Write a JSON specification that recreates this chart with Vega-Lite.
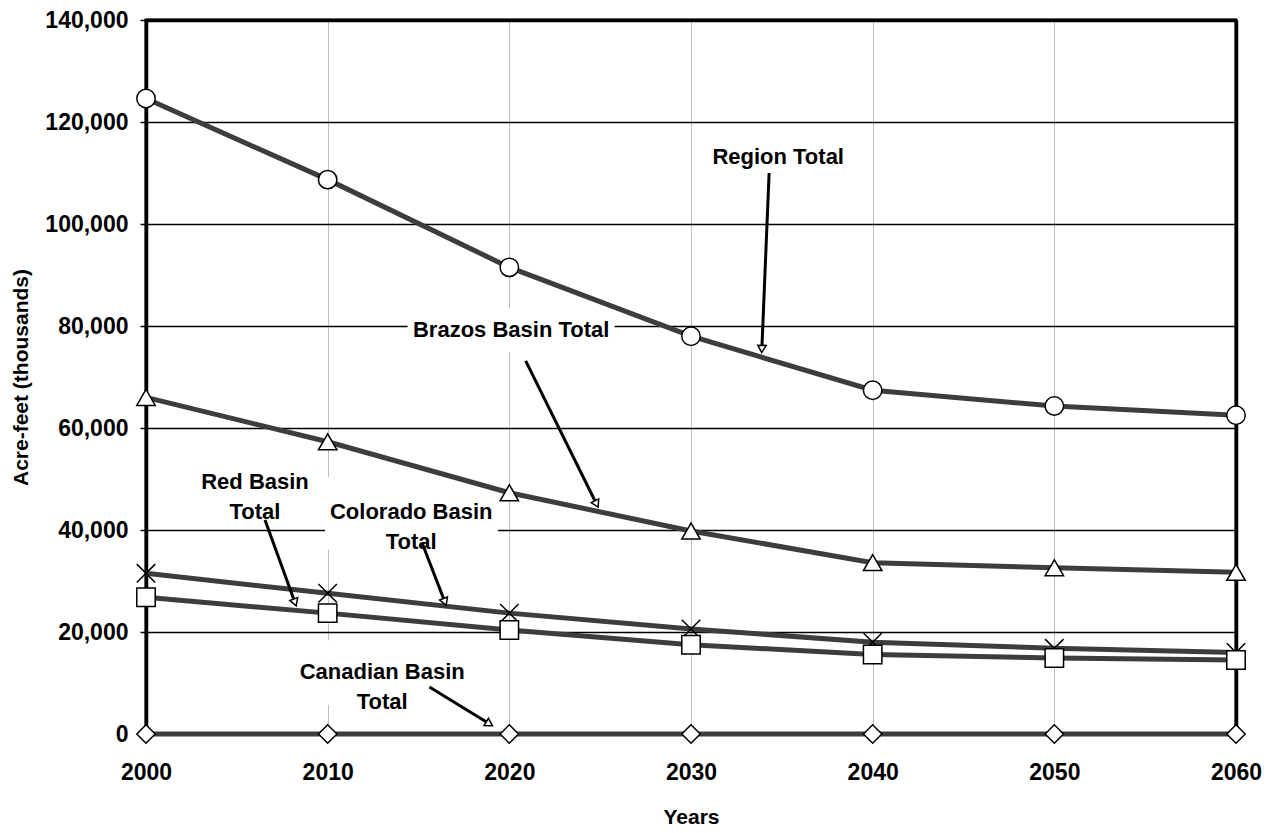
{
  "$schema": "https://vega.github.io/schema/vega-lite/v6.json",
  "width": 1090,
  "height": 714,
  "autosize": "none",
  "padding": {"left": 146, "top": 20, "right": 35, "bottom": 99},
  "background": "white",
  "config": {
    "view": {"stroke": "black", "strokeWidth": 3},
    "font": "Liberation Sans",
    "axis": {
      "labelFont": "Liberation Sans",
      "labelFontWeight": "bold",
      "labelFontSize": 23,
      "labelColor": "black",
      "labelFlush": false,
      "titleFont": "Liberation Sans",
      "titleFontWeight": "bold",
      "titleFontSize": 21,
      "titleColor": "black",
      "domain": false
    }
  },
  "datasets": {
    "series": [
      {"year": 2000, "basin": "Region Total", "value": 124600},
      {"year": 2010, "basin": "Region Total", "value": 108700},
      {"year": 2020, "basin": "Region Total", "value": 91500},
      {"year": 2030, "basin": "Region Total", "value": 78000},
      {"year": 2040, "basin": "Region Total", "value": 67400},
      {"year": 2050, "basin": "Region Total", "value": 64300},
      {"year": 2060, "basin": "Region Total", "value": 62500},
      {"year": 2000, "basin": "Brazos Basin Total", "value": 66000},
      {"year": 2010, "basin": "Brazos Basin Total", "value": 57300},
      {"year": 2020, "basin": "Brazos Basin Total", "value": 47300},
      {"year": 2030, "basin": "Brazos Basin Total", "value": 39800},
      {"year": 2040, "basin": "Brazos Basin Total", "value": 33600},
      {"year": 2050, "basin": "Brazos Basin Total", "value": 32600},
      {"year": 2060, "basin": "Brazos Basin Total", "value": 31700},
      {"year": 2000, "basin": "Colorado Basin Total", "value": 31500},
      {"year": 2010, "basin": "Colorado Basin Total", "value": 27600},
      {"year": 2020, "basin": "Colorado Basin Total", "value": 23700},
      {"year": 2030, "basin": "Colorado Basin Total", "value": 20600},
      {"year": 2040, "basin": "Colorado Basin Total", "value": 18000},
      {"year": 2050, "basin": "Colorado Basin Total", "value": 16800},
      {"year": 2060, "basin": "Colorado Basin Total", "value": 16000},
      {"year": 2000, "basin": "Red Basin Total", "value": 26800},
      {"year": 2010, "basin": "Red Basin Total", "value": 23700},
      {"year": 2020, "basin": "Red Basin Total", "value": 20400},
      {"year": 2030, "basin": "Red Basin Total", "value": 17500},
      {"year": 2040, "basin": "Red Basin Total", "value": 15600},
      {"year": 2050, "basin": "Red Basin Total", "value": 14900},
      {"year": 2060, "basin": "Red Basin Total", "value": 14500},
      {"year": 2000, "basin": "Canadian Basin Total", "value": 0},
      {"year": 2010, "basin": "Canadian Basin Total", "value": 0},
      {"year": 2020, "basin": "Canadian Basin Total", "value": 0},
      {"year": 2030, "basin": "Canadian Basin Total", "value": 0},
      {"year": 2040, "basin": "Canadian Basin Total", "value": 0},
      {"year": 2050, "basin": "Canadian Basin Total", "value": 0},
      {"year": 2060, "basin": "Canadian Basin Total", "value": 0}
    ],
    "notes": [
      {"label": "Region Total", "tx": 2034.8, "ty": 113150, "x1": 2034.3, "y1": 110000, "x2": 2033.9, "y2": 75500},
      {"label": "Brazos Basin Total", "tx": 2020.1, "ty": 79220, "x1": 2020.9, "y1": 73150, "x2": 2024.8, "y2": 45100},
      {"label": "Red Basin\nTotal", "tx": 2006.0, "ty": 49400, "x1": 2006.55, "y1": 41970, "x2": 2008.2, "y2": 25800},
      {"label": "Colorado Basin\nTotal", "tx": 2014.6, "ty": 43500, "x1": 2015.2, "y1": 37460, "x2": 2016.45, "y2": 25900},
      {"label": "Canadian Basin\nTotal", "tx": 2013.0, "ty": 12160, "x1": 2015.6, "y1": 9220, "x2": 2018.9, "y2": 2000}
    ],
    "boxes": [
      {"bx1": 2014.4, "bx2": 2025.8, "by1": 74900, "by2": 83500},
      {"bx1": 2009.85, "bx2": 2019.37, "by1": 36100, "by2": 50400},
      {"bx1": 2008.2, "bx2": 2017.9, "by1": 5700, "by2": 18400}
    ]
  },
  "layer": [
    {
      "data": {"name": "boxes"},
      "mark": {"type": "rect", "fill": "white", "stroke": null},
      "encoding": {
        "x": {
          "field": "bx1", "type": "quantitative", "title": "Years",
          "scale": {"domain": [2000, 2060], "nice": false, "zero": false},
          "axis": {
            "values": [2000, 2010, 2020, 2030, 2040, 2050, 2060],
            "format": "d",
            "ticks": false,
            "labelPadding": 27,
            "titlePadding": 22,
            "grid": true,
            "gridColor": {"condition": {"test": "datum.value == 2000 || datum.value == 2060", "value": "black"}, "value": "#bdbdbd"},
            "gridWidth": {"condition": {"test": "datum.value == 2000 || datum.value == 2060", "value": 3.5}, "value": 1}
          }
        },
        "x2": {"field": "bx2"},
        "y": {
          "field": "by1", "type": "quantitative", "title": "Acre-feet (thousands)",
          "scale": {"domain": [0, 140000], "nice": false},
          "axis": {
            "values": [0, 20000, 40000, 60000, 80000, 100000, 120000, 140000],
            "format": ",d",
            "ticks": true,
            "tickSize": 6,
            "tickColor": "black",
            "tickWidth": 1.5,
            "labelPadding": 12,
            "titlePadding": 13,
            "grid": true,
            "gridColor": "black",
            "gridWidth": {"condition": {"test": "datum.value == 140000", "value": 3.5}, "value": 1.5}
          }
        },
        "y2": {"field": "by2"}
      }
    },
    {
      "data": {"name": "series"},
      "mark": {"type": "line", "color": "#3d3d3d", "strokeWidth": 5},
      "encoding": {
        "x": {"field": "year", "type": "quantitative", "title": "Years"},
        "y": {"field": "value", "type": "quantitative", "title": "Acre-feet (thousands)"},
        "detail": {"field": "basin", "type": "nominal"}
      }
    },
    {
      "data": {"name": "series"},
      "mark": {"type": "point", "filled": true, "fill": "white", "stroke": "black", "strokeWidth": 1.5, "size": 340, "opacity": 1},
      "encoding": {
        "x": {"field": "year", "type": "quantitative", "title": "Years"},
        "y": {"field": "value", "type": "quantitative", "title": "Acre-feet (thousands)"},
        "shape": {
          "field": "basin", "type": "nominal", "legend": null,
          "scale": {
            "domain": ["Region Total", "Brazos Basin Total", "Colorado Basin Total", "Red Basin Total", "Canadian Basin Total"],
            "range": ["circle", "triangle-up", "M-1,-1L1,1M-1,1L1,-1", "square", "diamond"]
          }
        }
      }
    },
    {
      "data": {"name": "notes"},
      "mark": {"type": "rule", "color": "black", "strokeWidth": 3},
      "encoding": {
        "x": {"field": "x1", "type": "quantitative", "title": "Years"},
        "y": {"field": "y1", "type": "quantitative", "title": "Acre-feet (thousands)"},
        "x2": {"field": "x2"},
        "y2": {"field": "y2"}
      }
    },
    {
      "data": {"name": "notes"},
      "mark": {"type": "point", "shape": "triangle-down", "filled": true, "fill": "white", "stroke": "black", "strokeWidth": 1.5, "size": 70, "opacity": 1},
      "encoding": {
        "x": {"field": "x2", "type": "quantitative", "title": "Years"},
        "y": {"field": "y2", "type": "quantitative", "title": "Acre-feet (thousands)"},
        "angle": {
          "field": "label", "type": "nominal", "legend": null,
          "scale": {
            "type": "ordinal",
            "domain": ["Region Total", "Brazos Basin Total", "Red Basin\nTotal", "Colorado Basin\nTotal", "Canadian Basin\nTotal"],
            "range": [2, 334, 340, 339, 301]
          }
        }
      }
    },
    {
      "data": {"name": "notes"},
      "mark": {"type": "text", "fontWeight": "bold", "fontSize": 22, "lineBreak": "\n", "lineHeight": 30, "align": "center", "baseline": "middle", "color": "black"},
      "encoding": {
        "x": {"field": "tx", "type": "quantitative", "title": "Years"},
        "y": {"field": "ty", "type": "quantitative", "title": "Acre-feet (thousands)"},
        "text": {"field": "label"}
      }
    }
  ]
}
